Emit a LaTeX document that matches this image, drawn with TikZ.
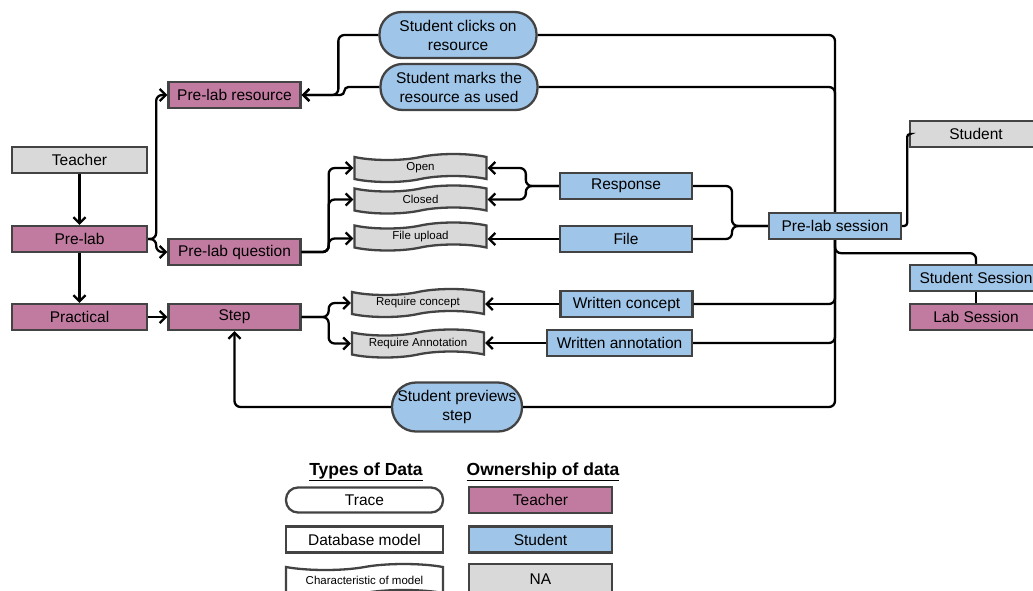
\documentclass[tikz,border=0pt]{standalone}
\usepackage{fontspec}
\setmainfont{Liberation Sans}
\usepackage{xcolor}
\usepackage{tikz}
\usetikzlibrary{shapes.symbols,arrows.meta,calc}

\definecolor{labpink}{HTML}{C27BA0}
\definecolor{labblue}{HTML}{9FC5E8}
\definecolor{labgray}{HTML}{D9D9D9}
\definecolor{labedge}{HTML}{434343}

\begin{document}
\begin{tikzpicture}[x=1pt,y=-1pt,
    box/.style={rectangle,draw=labedge,line width=2.3pt,minimum width=132pt,minimum height=26pt,inner sep=0pt,font=\fontsize{15.5}{19}\selectfont},
    teacherbox/.style={box,fill=labpink},
    studentbox/.style={box,fill=labblue},
    nabox/.style={box,fill=labgray},
    trace/.style={box,fill=labblue,rounded corners=22pt,align=center,minimum width=157pt,minimum height=46pt},
    charbox/.style={tape,draw=labedge,line width=2.3pt,fill=labgray,minimum width=132pt,minimum height=28pt,inner sep=0pt,tape bend height=6pt,font=\fontsize{11.5}{13}\selectfont},
    wire/.style={line width=2.3pt,rounded corners=6pt},
    arr/.style={wire,-{Straight Barb[length=6pt,width=12pt]}},
  ]
    \useasboundingbox (0,0) rectangle (1033,590);

    % teacher side
    \node[nabox,minimum width=135pt] (teacher) at (79.5,160) {Teacher};
    \node[teacherbox,minimum width=135pt] (prelab) at (79.5,239) {Pre-lab};
    \node[teacherbox,minimum width=135pt] (practical) at (79.5,317) {Practical};
    \node[teacherbox] (resource) at (234.5,95) {Pre-lab resource};
    \node[teacherbox] (question) at (234.5,252) {Pre-lab question};
    \node[teacherbox] (step) at (234.5,317) {Step};

    % characteristics
    \node[charbox] (open) at (420.5,168) {Open};
    \node[charbox] (closed) at (420.5,199.5) {Closed};
    \node[charbox] (upload) at (420.5,236.5) {File upload};
    \node[charbox] (reqconcept) at (418,303) {Require concept};
    \node[charbox] (reqannot) at (418,343.5) {Require Annotation};

    % student side
    \node[studentbox] (response) at (626,186) {Response};
    \node[studentbox] (file) at (626,239) {File};
    \node[studentbox] (wconcept) at (626.5,304) {Written concept};
    \node[studentbox,minimum width=145pt] (wannot) at (619.5,343) {Written annotation};
    \node[studentbox] (session) at (835,226) {Pre-lab session};
    \node[nabox] (student) at (976,134) {Student};
    \node[studentbox] (ssession) at (976,278) {Student Session};
    \node[teacherbox] (labsession) at (976,317) {Lab Session};

    % traces
    \node[trace] (clicks) at (458,35) {Student clicks on\\resource};
    \node[trace] (marks) at (459,87) {Student marks the\\resource as used};
    \node[trace,minimum width=130pt,minimum height=49pt,rounded corners=24pt] (previews) at (457,407) {Student previews\\step};

    % legend
    \node[font=\fontsize{17.5}{20}\selectfont\bfseries] (typeshead) at (366,472) {\underline{Types of Data}};
    \node[font=\fontsize{17.5}{20}\selectfont\bfseries] (ownhead) at (543,472) {\underline{Ownership of data}};
    \node[box,rounded corners=12pt,minimum width=157pt,minimum height=25pt] (legtrace) at (364.5,500) {Trace};
    \node[box,minimum width=157pt] (legmodel) at (364.5,539.5) {Database model};
    \node[charbox,fill=white,minimum width=157pt,minimum height=32pt] (legchar) at (364.5,580) {Characteristic of model};
    \node[teacherbox,minimum width=143pt] (legteacher) at (540.5,500) {Teacher};
    \node[studentbox,minimum width=143pt] (legstudent) at (540.5,539.5) {Student};
    \node[nabox,minimum width=143pt,minimum height=30pt] (legna) at (540.5,579) {NA};

    % connectors
    \draw[arr] (teacher) -- (prelab);
    \draw[arr] (prelab) -- (practical);
    \draw[arr] (practical) -- (step);
    \draw[arr] (prelab.east) -- ++(8,0) |- (resource.west);
    \draw[arr] (prelab.east) -- ++(8,0) |- (question.west);

    \draw[arr] (question.east) -- ++(27,0) |- (open.west);
    \draw[arr] (question.east) -- ++(27,0) |- (closed.west);
    \draw[arr] (question.east) -- ++(27,0) |- ($(upload.west)+(0,2)$);
    \draw[arr] (step.east) -- ++(27,0) |- (reqconcept.west);
    \draw[arr] (step.east) -- ++(27,0) |- (reqannot.west);

    \draw[arr] (response.west) -- ++(-33,0) |- (open.east);
    \draw[arr] (response.west) -- ++(-33,0) |- (closed.east);
    \draw[arr] (file.west) -- (file.west -| upload.east);
    \draw[arr] (wconcept.west) -- (wconcept.west -| reqconcept.east);
    \draw[arr] (wannot.west) -- (wannot.west -| reqannot.east);

    \coordinate (merge) at (732,226);
    \draw[wire] (response.east) -| (merge) -- (session.west);
    \draw[wire] (file.east) -| (merge) -- (session.west);

    \draw[wire] (clicks.east) -| (session.north);
    \draw[wire] (marks.east) -| (session.north);
    \draw[wire] (wconcept.east) -| (session.south);
    \draw[wire] (wannot.east) -| (session.south);
    \draw[wire] (previews.east) -| (session.south);
    \draw[wire] (session.south) -- ++(0,13) -| (ssession.north);
    \draw[wire,rounded corners=3pt] (session.east) -- ++(5,0) |- (student.west);
    \draw[wire] (ssession) -- (labsession);

    \draw[arr] (clicks.west) -- ++(-40,0) |- (resource.east);
    \draw[arr,rounded corners=4pt] (marks.west) -- ++(-35,0) |- (resource.east);
    \draw[arr] (previews.west) -| (step.south);
  \end{tikzpicture}
\end{document}
